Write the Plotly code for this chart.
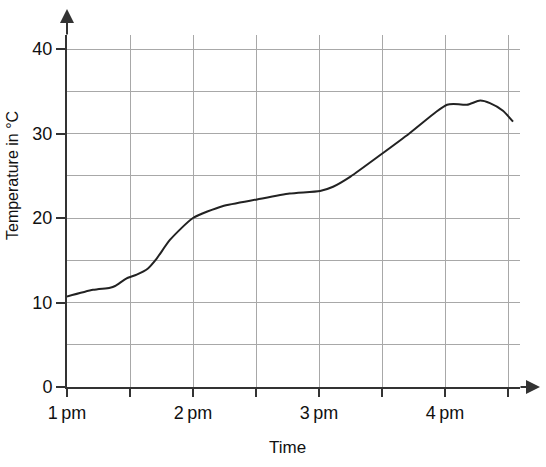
import plotly.graph_objects as go

# Data
minutes_after_1pm = [0, 12.4, 20.5, 22.9, 28.4, 33.2, 38.4, 42.7, 49, 60, 74, 90.5, 106,
                     120.5, 126.7, 135, 150, 163, 176, 181, 184, 190.5, 196.7, 201.4,
                     207.6, 212.4]
temperature_c = [10.7, 11.5, 11.75, 11.95, 12.85, 13.3, 14.0, 15.2, 17.4, 20.0, 21.4,
                 22.2, 22.9, 23.2, 23.7, 24.9, 27.6, 30.0, 32.6, 33.4, 33.5, 33.4, 33.9,
                 33.6, 32.7, 31.4]

x_tick_vals = [13, 13.5, 14, 14.5, 15, 15.5, 16, 16.5]
x_tick_text = ["1\u2009pm", "", "2\u2009pm", "", "3\u2009pm", "", "4\u2009pm", ""]
y_tick_vals = [0, 10, 20, 30, 40]
y_minor_vals = [5, 15, 25, 35]

hours = [13 + m / 60 for m in minutes_after_1pm]

FONT = "Liberation Sans, Arial, Helvetica, sans-serif"
AXIS = "#333333"
GRID = "#a8a8a8"

PLOT_L, PLOT_T, PLOT_W, PLOT_H = 67, 35, 453, 352
W, H = 546, 467

fig = go.Figure()
fig.add_trace(go.Scatter(
    x=hours, y=temperature_c, mode="lines",
    line=dict(color="#222222", width=2, shape="spline", smoothing=0.6),
    hoverinfo="skip", showlegend=False,
))

fig.update_layout(
    template="none",
    width=W, height=H,
    margin=dict(l=PLOT_L, r=W - PLOT_L - PLOT_W, t=PLOT_T,
                b=H - PLOT_T - PLOT_H, pad=0, autoexpand=False),
    paper_bgcolor="white", plot_bgcolor="white",
    font=dict(family=FONT, size=18, color="#111111"),
    showlegend=False,
    hovermode=False,
    xaxis=dict(
        range=[13, 13 + 453 / 126], tickvals=x_tick_vals, ticktext=x_tick_text,
        showgrid=True, gridcolor=GRID, gridwidth=1, automargin=False,
        ticks="outside", ticklen=8, tickwidth=2, tickcolor=AXIS,
        showline=True, linecolor=AXIS, linewidth=2, zeroline=False,
        tickfont=dict(size=18), fixedrange=True,
    ),
    yaxis=dict(
        range=[0, 352 / 8.45], tickvals=y_tick_vals,
        showgrid=True, gridcolor=GRID, gridwidth=1, automargin=False,
        minor=dict(tickvals=y_minor_vals, showgrid=True, gridcolor=GRID, gridwidth=1, ticks=""),
        ticks="outside", ticklen=9, tickwidth=2, tickcolor=AXIS,
        showline=True, linecolor=AXIS, linewidth=2, zeroline=False,
        tickfont=dict(size=18), fixedrange=True,
    ),
    annotations=[
        # y-axis arrow
        dict(xref="paper", yref="paper", x=0, y=1 + 26 / 352, ax=0, ay=27,
             axref="pixel", ayref="pixel", text="", showarrow=True,
             arrowhead=2, arrowsize=1.4, arrowwidth=2, arrowcolor=AXIS),
        # x-axis arrow
        dict(xref="paper", yref="paper", x=1 + 20 / 453, y=0, ax=-21, ay=0,
             axref="pixel", ayref="pixel", text="", showarrow=True,
             arrowhead=2, arrowsize=1.4, arrowwidth=2, arrowcolor=AXIS),
        # axis titles
        dict(xref="paper", yref="paper", x=(287 - 67) / 453, y=-(447 - 387) / 352,
             text="Time", showarrow=False, font=dict(size=17),
             xanchor="center", yanchor="middle"),
        dict(xref="paper", yref="paper", x=-(67 - 13) / 453, y=(387 - 176) / 352,
             text="Temperature in °C", showarrow=False, font=dict(size=16),
             textangle=-90, xanchor="center", yanchor="middle"),
    ],
)

fig.write_html(
    "out.html",
    config={"displayModeBar": False, "staticPlot": True},
    post_script="document.body.style.margin='0';document.body.style.overflow='hidden';",
)
